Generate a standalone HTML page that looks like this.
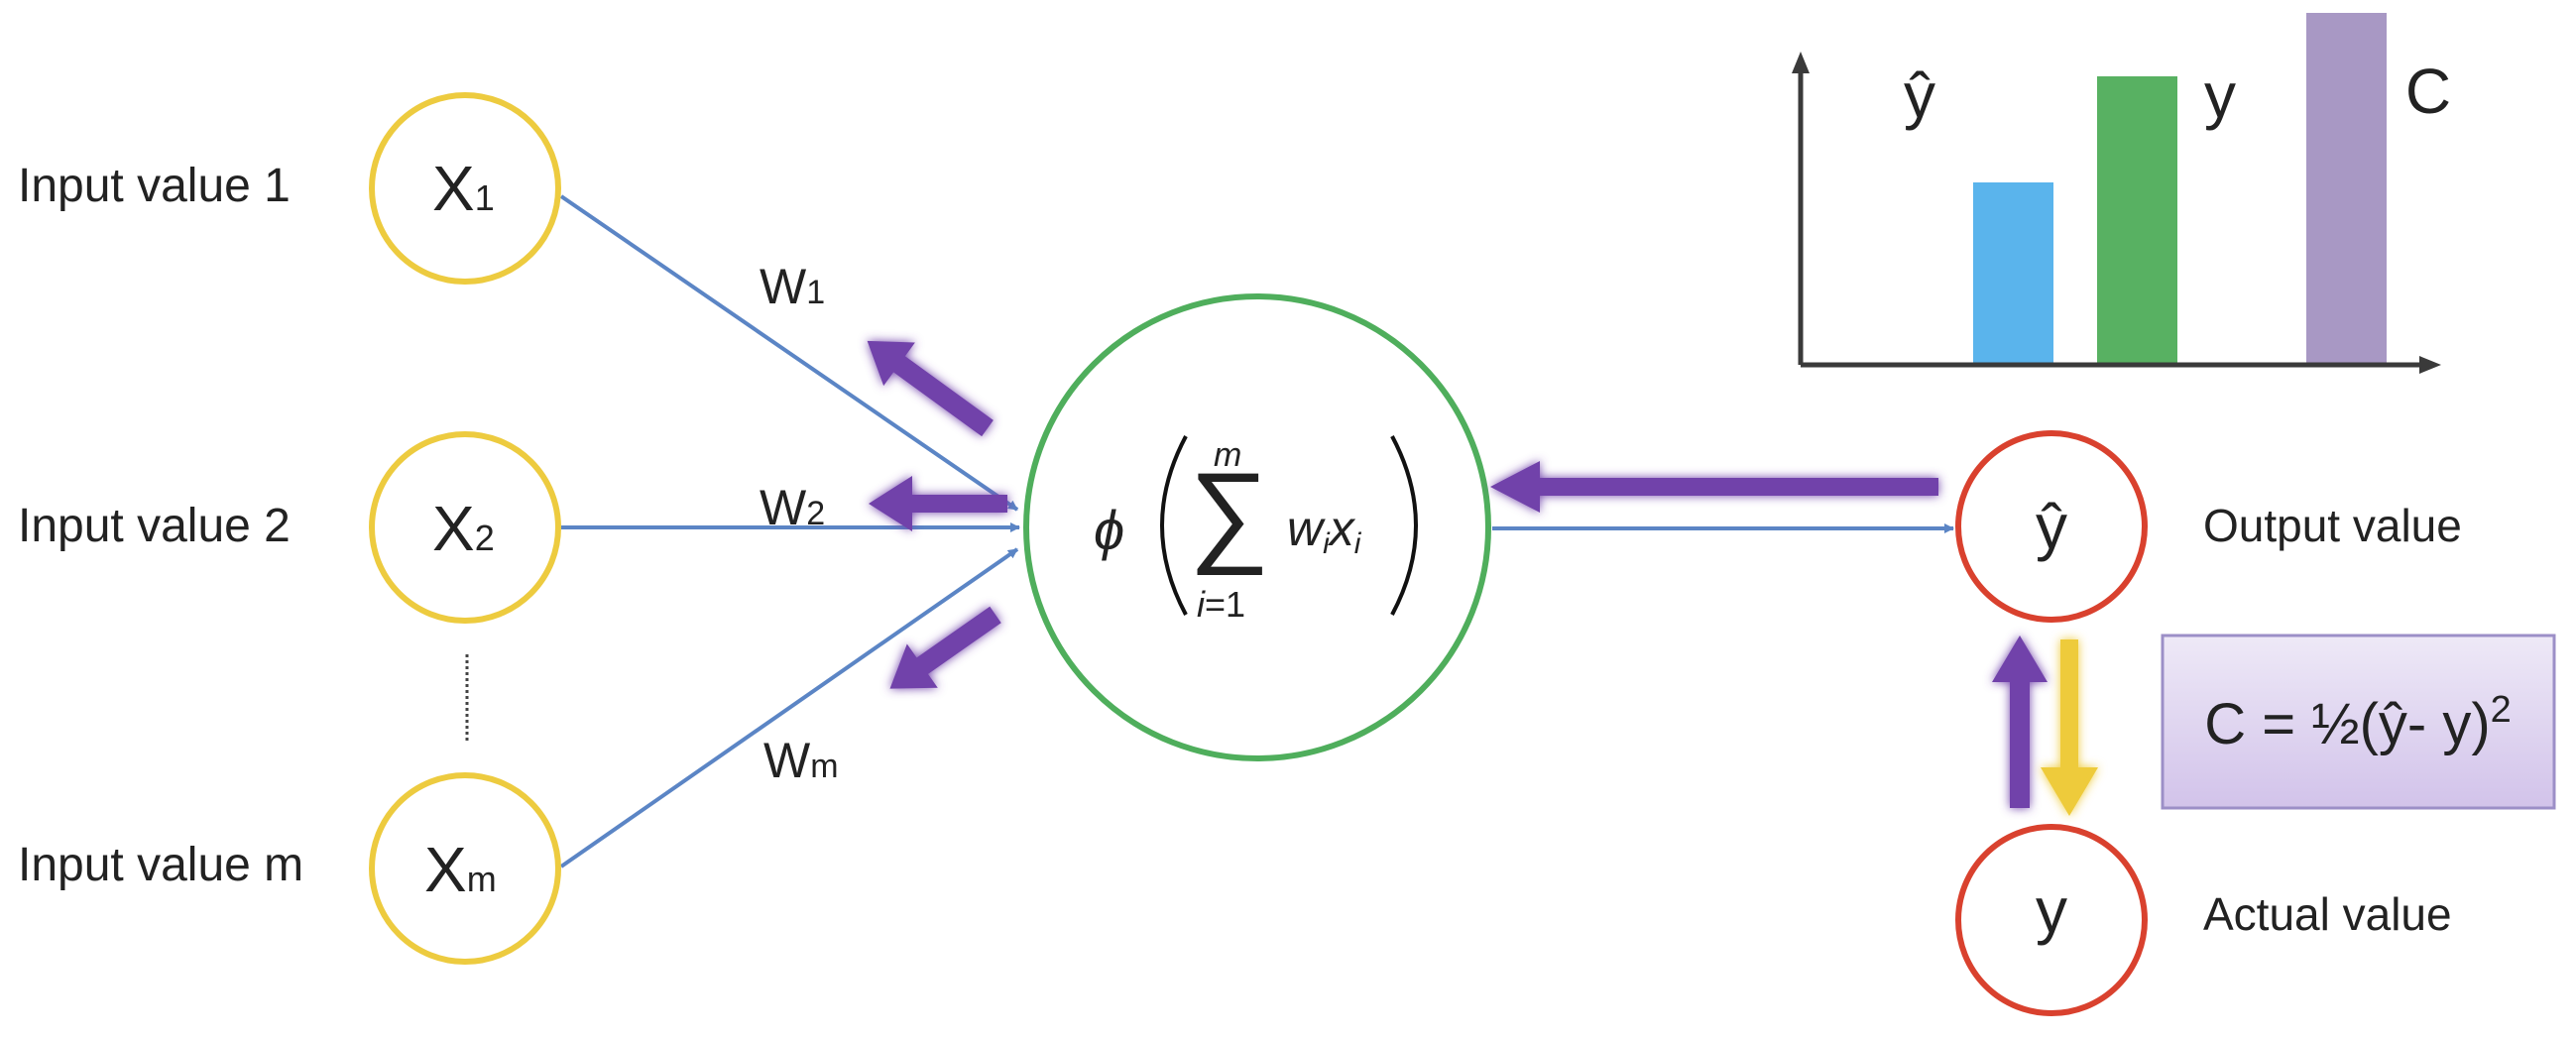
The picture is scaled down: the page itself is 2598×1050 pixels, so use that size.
<!DOCTYPE html>
<html><head><meta charset="utf-8"><style>
html,body{margin:0;padding:0;background:#fff;}
svg{display:block;}
text{font-family:"Liberation Sans",sans-serif;fill:#222;}
</style></head><body>
<svg width="2598" height="1050" viewBox="0 0 2598 1050" xmlns="http://www.w3.org/2000/svg">
<defs>
<filter id="glow" x="-30%" y="-30%" width="160%" height="160%"><feGaussianBlur in="SourceGraphic" stdDeviation="5" result="b"/><feMerge><feMergeNode in="b"/><feMergeNode in="SourceGraphic"/></feMerge></filter>
<linearGradient id="box" x1="0" y1="0" x2="0" y2="1"><stop offset="0" stop-color="#EEE9F7"/><stop offset="1" stop-color="#D2C3EA"/></linearGradient>
<marker id="ah" markerWidth="10" markerHeight="10" refX="9" refY="5" orient="auto" markerUnits="userSpaceOnUse"><path d="M0,0 L10,5 L0,10 z" fill="#5B85C5"/></marker>
</defs>

<text x="18" y="203" font-size="48">Input value 1</text>
<text x="18" y="546" font-size="48">Input value 2</text>
<text x="18" y="888" font-size="48">Input value m</text>

<g stroke="#5B85C5" stroke-width="4" fill="none">
<line x1="566" y1="198" x2="1026" y2="514" marker-end="url(#ah)"/>
<line x1="566" y1="532" x2="1028" y2="532" marker-end="url(#ah)"/>
<line x1="566" y1="874" x2="1026" y2="554" marker-end="url(#ah)"/>
<line x1="1505" y1="533" x2="1970" y2="533" marker-end="url(#ah)"/>
</g>

<g fill="#fff" stroke="#EDCB3F" stroke-width="6">
<circle cx="469" cy="190" r="94"/>
<circle cx="469" cy="532" r="94"/>
<circle cx="469" cy="876" r="94"/>
</g>
<text x="436" y="212" font-size="64">X<tspan font-size="36">1</tspan></text>
<text x="436" y="555" font-size="64">X<tspan font-size="36">2</tspan></text>
<text x="428" y="899" font-size="64">X<tspan font-size="36">m</tspan></text>
<line x1="471" y1="660" x2="471" y2="748" stroke="#444" stroke-width="3" stroke-dasharray="3,3"/>

<text x="766" y="306" font-size="50">W<tspan font-size="34">1</tspan></text>
<text x="766" y="529" font-size="50">W<tspan font-size="34">2</tspan></text>
<text x="770" y="784" font-size="50">W<tspan font-size="34">m</tspan></text>

<circle cx="1268" cy="532" r="233" fill="#fff" stroke="#4FAE5C" stroke-width="6"/>
<text x="1103" y="554" font-size="56" font-family="Liberation Serif" font-style="italic">ϕ</text>
<path d="M1196,440 Q1148,530 1196,620" stroke="#111" stroke-width="4" fill="none"/>
<path d="M1404,440 Q1452,530 1404,620" stroke="#111" stroke-width="4" fill="none"/>
<text x="1199" y="556" font-size="114" font-family="DejaVu Sans">∑</text>
<text x="1224" y="470" font-size="34" font-family="Liberation Serif" font-style="italic">m</text>
<text x="1207" y="622" font-size="36" font-family="Liberation Serif"><tspan font-style="italic">i</tspan>=1</text>
<text x="1298" y="550" font-size="50" font-family="Liberation Serif" font-style="italic">w<tspan font-size="30" dy="8">i</tspan><tspan dy="-8">x</tspan><tspan font-size="30" dy="8">i</tspan></text>

<g fill="#7142AA" filter="url(#glow)">
<path d="M1955,482 L1553,482 L1553,465 L1503,491 L1553,517 L1553,500 L1955,500 z"/>
<path d="M1016,499 L920,499 L920,480 L876,508 L920,536 L920,517 L1016,517 z"/>
<g transform="translate(996,432) rotate(-144)"><path d="M0,-10 L110,-10 L110,-27 L150,0 L110,27 L110,10 L0,10 z"/></g>
<g transform="translate(1004,620) rotate(145)"><path d="M0,-10 L90,-10 L90,-27 L130,0 L90,27 L90,10 L0,10 z"/></g>
<path d="M2027,815 L2027,688 L2009,688 L2037,641 L2065,688 L2047,688 L2047,815 z"/>
</g>
<g fill="#EECB3A" filter="url(#glow)">
<path d="M2078,645 L2096,645 L2096,774 L2116,774 L2087,823 L2058,774 L2078,774 z"/>
</g>

<g fill="#fff" stroke="#D9412E" stroke-width="6">
<circle cx="2069" cy="531" r="94"/>
<circle cx="2069" cy="928" r="94"/>
</g>
<text x="2069" y="553" font-size="64" text-anchor="middle">ŷ</text>
<text x="2069" y="940" font-size="64" text-anchor="middle">y</text>
<text x="2222" y="546" font-size="46">Output value</text>
<text x="2222" y="938" font-size="46">Actual value</text>

<rect x="2181" y="641" width="395" height="174" fill="url(#box)" stroke="#9C8FC7" stroke-width="3"/>
<text x="2378" y="750" font-size="58" text-anchor="middle">C = ½(ŷ- y)<tspan font-size="38" dy="-22">2</tspan></text>

<rect x="1990" y="184" width="81" height="184" fill="#5AB4EC"/>
<rect x="2115" y="77" width="81" height="291" fill="#58B162"/>
<rect x="2326" y="13" width="81" height="355" fill="#A898C4"/>
<g stroke="#3a3a3a" stroke-width="5" fill="none">
<line x1="1816" y1="368" x2="2445" y2="368"/>
<line x1="1816" y1="368" x2="1816" y2="70"/>
</g>
<path d="M1816,52 L1807,74 L1825,74 z" fill="#3a3a3a"/>
<path d="M2462,368 L2440,359 L2440,377 z" fill="#3a3a3a"/>
<text x="1936" y="118" font-size="64" text-anchor="middle">ŷ</text>
<text x="2239" y="118" font-size="64" text-anchor="middle">y</text>
<text x="2449" y="114" font-size="64" text-anchor="middle">C</text>
</svg>
</body></html>
